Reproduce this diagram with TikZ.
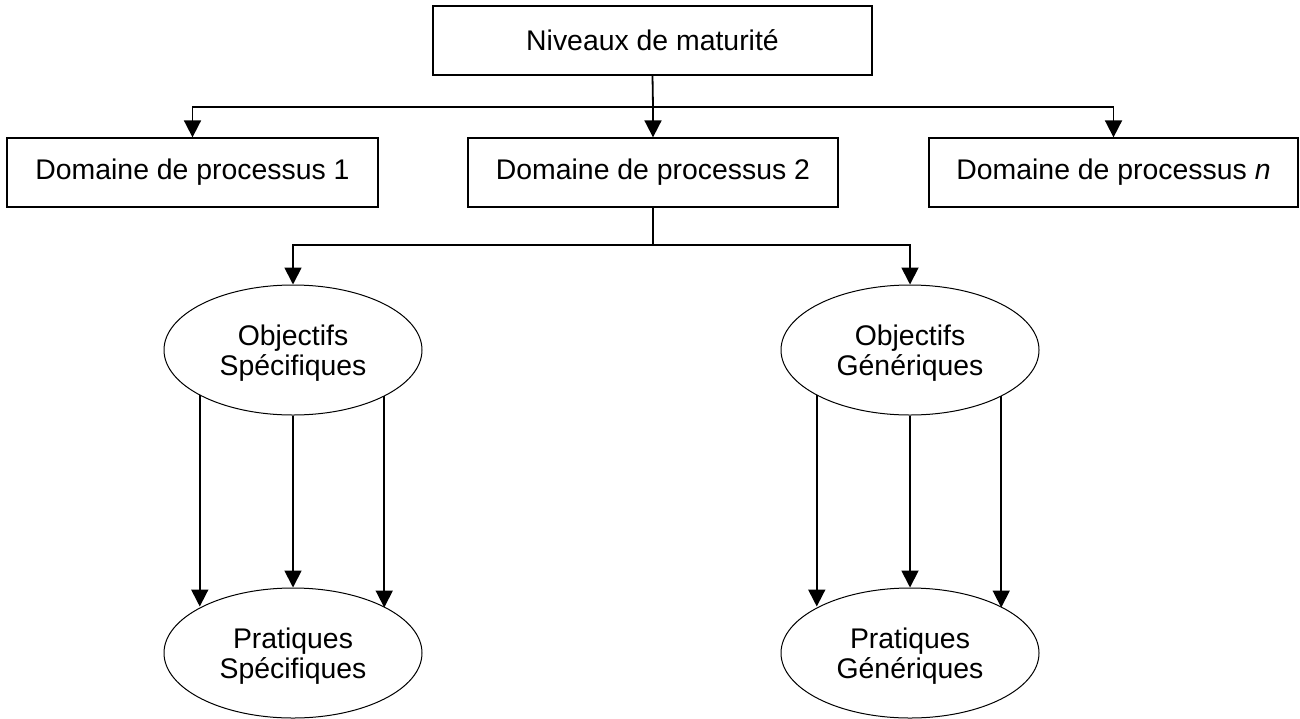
\documentclass[tikz,border=0pt]{standalone}
\usepackage{fontspec}
\setmainfont{Liberation Sans}
\usetikzlibrary{shapes.geometric,arrows.meta}
\newcommand{\topstrut}{\rule{0pt}{26pt}}
\begin{document}
\begin{tikzpicture}[x=1pt,y=-1pt,
  every node/.style={font=\fontsize{28.4}{30}\selectfont, inner sep=0pt},
  boxnode/.style={draw, line width=1.3pt, rectangle, minimum height=69pt},
  ellnode/.style={draw, line width=1pt, ellipse, minimum width=258pt, minimum height=130pt, align=center},
  conn/.style={line width=1.8pt},
  arr/.style={conn, -{Triangle[length=17pt,width=17pt]}}]
\useasboundingbox (0,0) rectangle (1300,718);
\node[boxnode, minimum width=439pt] (top) at (652.5,40.5) {\raisebox{1.5pt}{Niveaux de maturité}};
\node[boxnode, minimum width=371pt] (d1) at (192.5,172.5) {Domaine de processus 1};
\node[boxnode, minimum width=370pt] (d2) at (653,172.5) {Domaine de processus 2};
\node[boxnode, minimum width=369pt] (dn) at (1113.5,172.5) {Domaine de processus \textit{n}};
\node[ellnode] (os) at (293,350) {\topstrut Objectifs\\Spécifiques};
\node[ellnode] (og) at (910,350) {\topstrut Objectifs\\Génériques};
\node[ellnode] (ps) at (293,653) {\topstrut Pratiques\\Spécifiques};
\node[ellnode] (pg) at (910,653) {\topstrut Pratiques\\Génériques};
\coordinate (bus1) at (653,107);
\coordinate (bus2) at (653,245);
\draw[conn] (top.south) -- (bus1);
\draw[arr] (bus1) -- (d2.north);
\draw[arr] (bus1) -| (d1.north);
\draw[arr] (bus1) -| (dn.north);
\draw[conn] (d2.south) -- (bus2);
\draw[arr] (bus2) -| (os.north);
\draw[arr] (bus2) -| (og.north);
\draw[arr] (os.206.8) -- (os.206.8 |- ps.153.2);
\draw[arr] (os.south) -- (ps.north);
\draw[arr] (os.333.2) -- (os.333.2 |- ps.26.8);
\draw[arr] (og.206.8) -- (og.206.8 |- pg.153.2);
\draw[arr] (og.south) -- (pg.north);
\draw[arr] (og.333.2) -- (og.333.2 |- pg.26.8);
\end{tikzpicture}
\end{document}
